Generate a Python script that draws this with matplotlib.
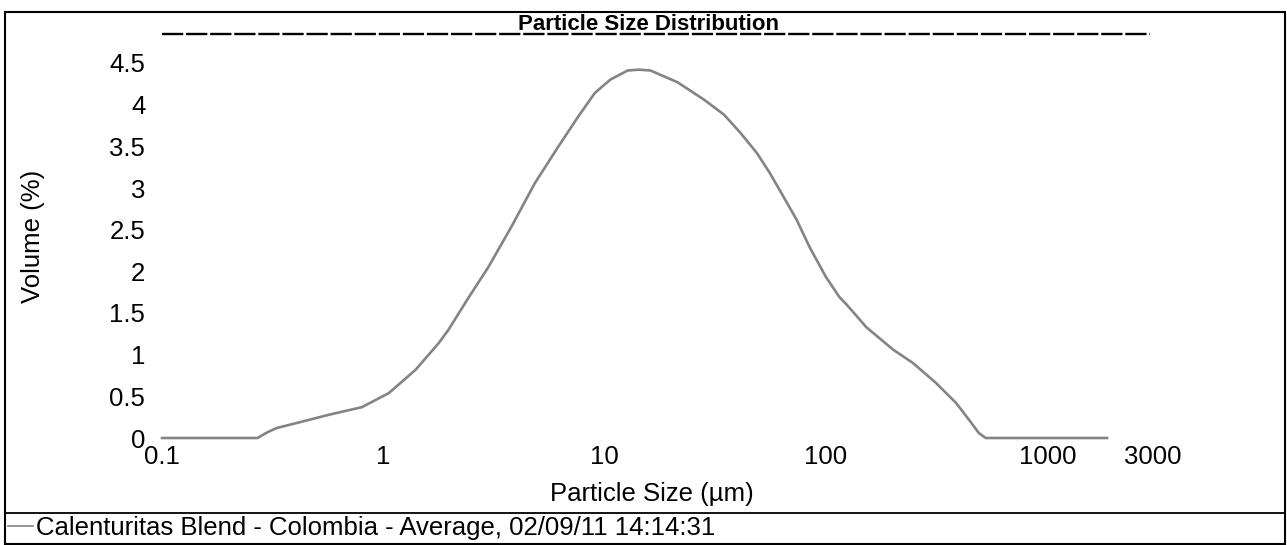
import matplotlib
matplotlib.use("Agg")
import matplotlib.pyplot as plt
from matplotlib.lines import Line2D
from matplotlib.patches import Rectangle

# particle size (um) and volume (%)
sizes = [0.1, 0.27, 0.30, 0.33, 0.42, 0.57, 0.80, 1.06, 1.40, 1.78, 1.97,
         2.42, 2.98, 3.78, 4.84, 6.15, 7.56, 9.02, 10.6, 12.7, 14.3, 16.1,
         21.3, 28.1, 34.6, 40.8, 48.7, 55.7, 64.4, 73.6, 84.3, 100, 115,
         124, 152, 201, 247, 314, 387, 442, 490, 526, 1860]
volumes = [0, 0, 0.07, 0.12, 0.19, 0.28, 0.37, 0.54, 0.82, 1.14, 1.30,
           1.68, 2.05, 2.53, 3.06, 3.49, 3.85, 4.14, 4.30, 4.41, 4.42, 4.41,
           4.27, 4.06, 3.88, 3.67, 3.42, 3.18, 2.89, 2.62, 2.29, 1.93, 1.69,
           1.60, 1.33, 1.06, 0.90, 0.66, 0.42, 0.22, 0.06, 0, 0]

x_ticks = [0.1, 1, 10, 100, 1000, 3000]
x_labels = ["0.1", "1", "10", "100", "1000", "3000"]
y_ticks = [0, 0.5, 1, 1.5, 2, 2.5, 3, 3.5, 4, 4.5]
y_labels = ["0", "0.5", "1", "1.5", "2", "2.5", "3", "3.5", "4", "4.5"]

title = "Particle Size Distribution"
series_name = "Calenturitas Blend - Colombia - Average, 02/09/11 14:14:31"

plt.rcParams["font.family"] = ["Liberation Sans", "DejaVu Sans"]

W, H = 1287, 545
fig = plt.figure(figsize=(W / 100, H / 100), dpi=100)

# pixel helpers (from top-left)
def fx(px):
    return px / W

def fy(py):
    return 1 - py / H

ax = fig.add_axes([fx(162), fy(438), fx(1153) - fx(162), fy(63) - fy(438)])
ax.set_xscale("log")
ax.set_xlim(0.1, 3000)
ax.set_ylim(0, 4.5)
ax.plot(sizes, volumes, color="#848484", lw=1.9, clip_on=False)

ax.set_xticks(x_ticks)
ax.set_xticklabels(x_labels)
ax.xaxis.set_minor_locator(matplotlib.ticker.NullLocator())
ax.set_yticks(y_ticks)
ax.set_yticklabels(y_labels)
ax.tick_params(axis="both", length=0, labelsize=18.5, colors="black")
ax.tick_params(axis="x", pad=5)
ax.tick_params(axis="y", pad=12)
for s in ax.spines.values():
    s.set_visible(False)
ax.patch.set_alpha(0)

# axis titles
fig.text(fx(652), fy(494), "Particle Size (µm)", ha="center", va="center",
         fontsize=18.5)
fig.text(fx(33), fy(236), "Volume (%)", ha="center", va="center",
         rotation=90, fontsize=18.5)

# title with the dashed rule underneath
fig.text(fx(648), fy(24), title, ha="center", va="center",
         fontsize=16, fontweight="bold")
fig.add_artist(Line2D([fx(162), fx(1150)], [fy(34), fy(34)], color="black",
                      lw=1.7, linestyle=(0, (9, 1.2))))

# outer frame and legend strip
fig.add_artist(Rectangle((fx(5), fy(544)), fx(1285) - fx(5), fy(12) - fy(544),
                         fill=False, edgecolor="black", lw=1.5))
fig.add_artist(Line2D([fx(5), fx(1285)], [fy(513), fy(513)], color="black",
                      lw=1.3))
fig.add_artist(Line2D([fx(8), fx(33)], [fy(526), fy(526)], color="#848484",
                      lw=1.2))
fig.text(fx(36), fy(528), series_name, ha="left", va="center", fontsize=18.5)

fig.savefig("out.png", dpi=100)
